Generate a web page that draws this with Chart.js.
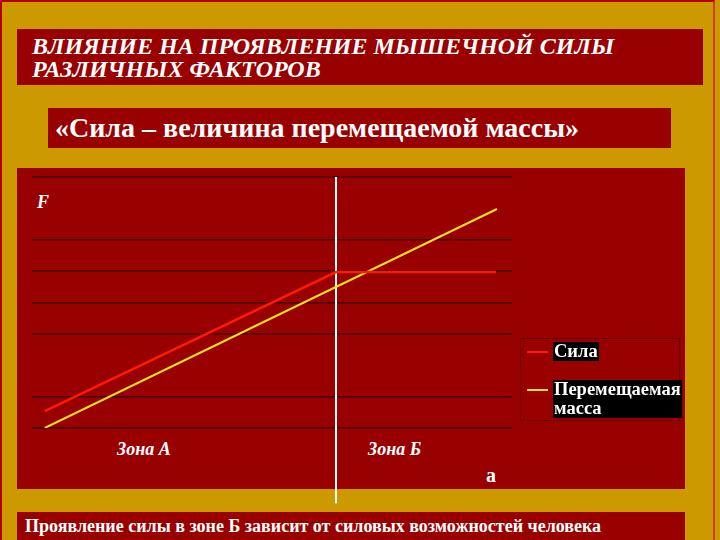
<!DOCTYPE html>
<html>
<head>
<meta charset="utf-8">
<script src="https://cdn.jsdelivr.net/npm/chart.js"></script>
<style>
    html, body { margin: 0; padding: 0; }
    * { font-family: "Liberation Serif", "Times New Roman", serif; }
    body {
        width: 720px; height: 540px; position: relative; overflow: hidden;
        background: #cc9900; color: #fff;
    }
    .frame { position: absolute; left: 0; top: 0; width: 715px; height: 540px; border-left: 2px solid #b40000; border-top: 2px solid #b40000; border-right: 2px solid #d23a00; box-sizing: border-box; }
    .box { position: absolute; background: #990000; }
    #title { left: 17px; top: 29px; width: 686px; height: 56px; }
    #title div { position: absolute; left: 15px; font-style: italic; font-weight: bold; font-size: 24px; line-height: 23px; white-space: nowrap; }
    #subtitle { left: 48px; top: 108px; width: 623px; height: 40px; }
    #subtitle div { position: absolute; left: 7px; top: 6px; font-weight: bold; font-size: 28px; line-height: 28px; white-space: nowrap; }
    #plotbox { left: 17px; top: 168px; width: 668px; height: 321px; }
    #bottom { left: 17px; top: 512px; width: 668px; height: 28px; }
    #bottom div { position: absolute; left: 8px; top: 5px; font-weight: bold; font-size: 18px; line-height: 19px; white-space: nowrap; }
    canvas { position: absolute; left: 0; top: 0; }
    .lbl { position: absolute; font-weight: bold; font-size: 18px; line-height: 18px; }
    .it { font-style: italic; }
    #legend { position: absolute; left: 520px; top: 338px; width: 160px; height: 83px; border: 1px solid #6a0000; box-sizing: border-box; }
    .item { position: absolute; left: 6px; }
    .swatch { position: absolute; left: 0; width: 21px; height: 2px; }
    .txt { position: absolute; left: 26px; background: #000; font-weight: bold; font-size: 18.5px; line-height: 19px; padding: 0 1px; white-space: nowrap; }
</style>
</head>
<body>
<div class="frame"></div>
<div class="box" id="title">
    <div style="top:6px">ВЛИЯНИЕ НА ПРОЯВЛЕНИЕ МЫШЕЧНОЙ СИЛЫ</div>
    <div style="top:29px">РАЗЛИЧНЫХ ФАКТОРОВ</div>
</div>
<div class="box" id="subtitle"><div>«Сила – величина перемещаемой массы»</div></div>
<div class="box" id="plotbox"></div>
<div class="box" id="bottom"><div>Проявление силы в зоне Б зависит от силовых возможностей человека</div></div>

<div class="lbl it" style="left:37px; top:193px;">F</div>
<div class="lbl it" style="left:117px; top:440px;">Зона А</div>
<div class="lbl it" style="left:368px; top:440px;">Зона Б</div>
<div class="lbl" style="left:486px; top:466px; font-size:20px;">а</div>

<canvas id="chart" width="720" height="540"></canvas>

<div id="legend"></div>

<script>
// values (x: 0..30, y: 0..8)
const seriesNames = ["Сила", "Перемещаемая масса"];
const forceX = [0.8, 19, 29];
const forceY = [0.54, 4.97, 4.97];
const massX = [0.8, 29.06];
const massY = [0, 6.98];
const zoneBorderX = [19, 19];
const zoneBorderY = [8, -2.4];
const gridValues = [0, 1, 3, 4, 5, 6, 8];

const colors = ["#ff1a00", "#ffe21a"];

function toPoints(xs, ys) {
    return xs.map((x, i) => ({ x: x, y: ys[i] }));
}

const ctx = document.getElementById("chart").getContext("2d");
const chart = new Chart(ctx, {
    type: 'line',
    data: {
        datasets: [{
            label: seriesNames[0],
            data: toPoints(forceX, forceY),
            borderColor: colors[0],
            borderWidth: 2.5,
            pointRadius: 0,
            tension: 0
        }, {
            label: seriesNames[1],
            data: toPoints(massX, massY),
            borderColor: colors[1],
            borderWidth: 2,
            pointRadius: 0,
            tension: 0
        }, {
            label: "",
            data: toPoints(zoneBorderX, zoneBorderY),
            borderColor: "#ffffff",
            borderWidth: 2,
            pointRadius: 0,
            clip: false
        }]
    },
    options: {
        responsive: false,
        animation: false,
        devicePixelRatio: 1,
        layout: { padding: { left: 32, right: 208, top: 177, bottom: 112 } },
        plugins: { legend: { display: false }, tooltip: { enabled: false } },
        scales: {
            x: { type: 'linear', min: 0, max: 30, display: false },
            y: {
                min: 0, max: 8,
                afterBuildTicks: (scale) => { scale.ticks = gridValues.map(v => ({ value: v })); },
                ticks: { display: false },
                grid: { color: "#420000", lineWidth: 1.5, drawTicks: false },
                border: { display: false }
            }
        }
    }
});

// legend from the same series names and colours
const legend = document.getElementById("legend");
const itemTops = [3, 41];
seriesNames.forEach((name, i) => {
    const item = document.createElement("div");
    item.className = "item";
    item.style.top = itemTops[i] + "px";
    const sw = document.createElement("div");
    sw.className = "swatch";
    sw.style.background = colors[i];
    sw.style.top = "9px";
    const t = document.createElement("div");
    t.className = "txt";
    t.innerHTML = name.replace(" ", "<br>");
    item.appendChild(sw);
    item.appendChild(t);
    legend.appendChild(item);
});
</script>
</body>
</html>
